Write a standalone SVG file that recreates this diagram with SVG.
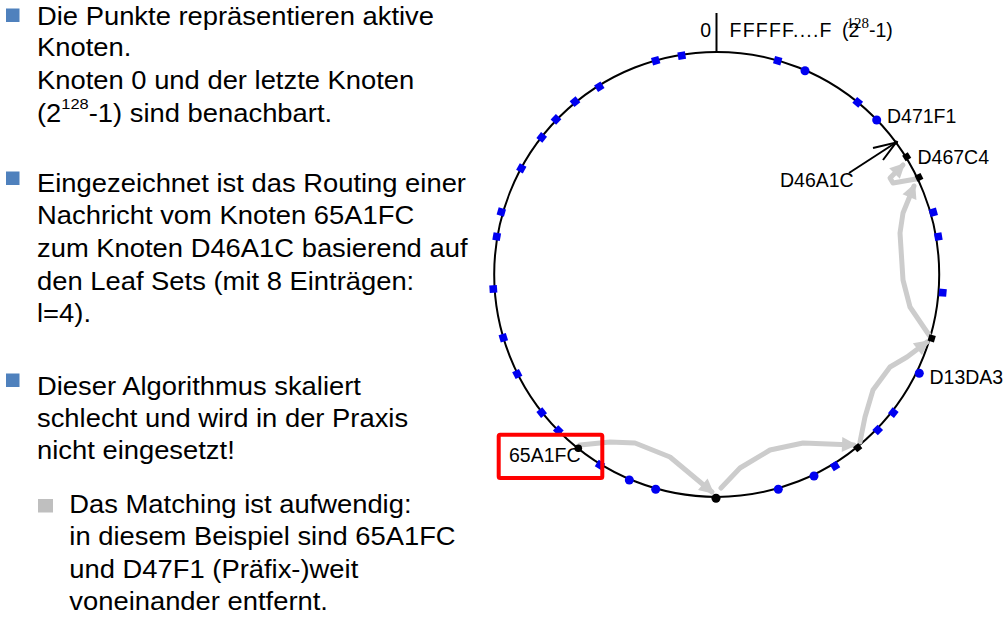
<svg xmlns="http://www.w3.org/2000/svg" width="1007" height="619" viewBox="0 0 1007 619">
  <style>
    .body { font-family: "Liberation Sans", Arial, sans-serif; font-size: 25px; fill: #000; }
    .lbl { font-family: "Liberation Sans", Arial, sans-serif; font-size: 19.5px; fill: #000; }
    .bul { fill: #4F81BD; }
    .sub { fill: #BFBFBF; }
    .ring { fill: none; stroke: #000; stroke-width: 2; }
    .sq { fill: #0000F0; }
    .dot { fill: #0000F0; }
    .blk { fill: #000; }
    .route { fill: none; stroke: #CCCCCC; stroke-width: 5; stroke-linejoin: round; stroke-linecap: round; marker-end: url(#gh); }
  </style>
  <defs>
    <marker id="gh" viewBox="0 0 10 10" refX="8" refY="5" markerWidth="3.4" markerHeight="3" orient="auto" markerUnits="strokeWidth">
      <path d="M0,0 L10,5 L0,10 z" fill="#CCCCCC"/>
    </marker>
    <rect id="bs" x="-3.8" y="-3.8" width="7.6" height="7.6" fill="#0000F0"/>
    <rect id="ks" x="-3.3" y="-3.3" width="6.6" height="6.6" fill="#000"/>
  </defs>
  <rect width="1007" height="619" fill="#fff"/>

  <!-- bullet text -->
  <g id="text">
    <rect class="bul" x="6" y="8.5" width="13.5" height="13.5"/>
    <rect class="bul" x="6" y="171.5" width="13.5" height="13.5"/>
    <rect class="bul" x="6" y="373.5" width="13.5" height="13.5"/>
    <rect class="sub" x="38" y="499" width="15" height="13.5"/>
    <g transform="scale(1.095,1)">
      <text class="body" x="33.8" y="25">Die Punkte repräsentieren aktive</text>
      <text class="body" x="33.8" y="56.5">Knoten.</text>
      <text class="body" x="33.8" y="89">Knoten 0 und der letzte Knoten</text>
      <text class="body" x="33.8" y="121.7">(2<tspan font-size="15" dy="-13">128</tspan><tspan dy="13">-1) sind benachbart.</tspan></text>
      <text class="body" x="33.8" y="191.7">Eingezeichnet ist das Routing einer</text>
      <text class="body" x="33.8" y="224.5">Nachricht vom Knoten 65A1FC</text>
      <text class="body" x="33.8" y="257">zum Knoten D46A1C basierend auf</text>
      <text class="body" x="33.8" y="289.7">den Leaf Sets (mit 8 Einträgen:</text>
      <text class="body" x="33.8" y="321.7">l=4).</text>
      <text class="body" x="33.8" y="395">Dieser Algorithmus skaliert</text>
      <text class="body" x="33.8" y="427">schlecht und wird in der Praxis</text>
      <text class="body" x="33.8" y="459.5">nicht eingesetzt!</text>
      <text class="body" x="63.3" y="513">Das Matching ist aufwendig:</text>
      <text class="body" x="63.3" y="545.5">in diesem Beispiel sind 65A1FC</text>
      <text class="body" x="63.3" y="578">und D47F1 (Präfix-)weit</text>
      <text class="body" x="63.3" y="610">voneinander entfernt.</text>
    </g>
  </g>

  <!-- identifier ring -->
  <g id="ring">
    <circle class="ring" cx="716.7" cy="274.4" r="222.5"/>
    <line x1="716.5" y1="13" x2="716.5" y2="52" stroke="#000" stroke-width="2"/>
    <text class="lbl" x="711" y="36.7" text-anchor="end">0</text>
    <text class="lbl" x="729.5" y="36.7" textLength="102" lengthAdjust="spacing">FFFFF....F</text>
    <text class="lbl" x="842" y="36.7">(2</text>
    <text x="846.5" y="28" font-family="'Liberation Serif', serif" font-size="15">128</text>
    <text class="lbl" x="869" y="36.7">-1)</text>
  </g>

  <!-- routing hops -->
  <g id="connectors">
    <polyline class="route" points="580,445 610,442 635,443 670,457 712,492"/>
    <polyline class="route" points="721,488 740,468 770,450 803,443 854,445"/>
    <polyline class="route" points="860,442 865,417 873,390 890,367 907,357 927,342"/>
    <polyline class="route" points="929,335 910,307 903,280 900,233 903,213 914,186"/>
    <polyline class="route" points="916,179 893,183 890,178 903,165"/>
    <line x1="849" y1="173" x2="896" y2="142.5" stroke="#000" stroke-width="2"/>
    <polyline points="873,148 896,142.5 883,160" fill="none" stroke="#000" stroke-width="2"/>
  </g>

  <!-- active nodes -->
  <g id="nodes">
    <use href="#bs" transform="translate(681.7,55.7) rotate(-99)"/>
    <use href="#bs" transform="translate(655.7,60.7) rotate(-106)"/>
    <use href="#bs" transform="translate(599.3,86.7) rotate(-122)"/>
    <use href="#bs" transform="translate(575,101.7) rotate(-129)"/>
    <use href="#bs" transform="translate(556,119.3) rotate(-136)"/>
    <use href="#bs" transform="translate(541.7,137.3) rotate(-142)"/>
    <use href="#bs" transform="translate(521.3,168.3) rotate(-151)"/>
    <use href="#bs" transform="translate(501.3,212) rotate(-164)"/>
    <use href="#bs" transform="translate(496.7,236.7) rotate(-170)"/>
    <use href="#bs" transform="translate(493.3,289) rotate(176)"/>
    <use href="#bs" transform="translate(503.3,337.7) rotate(163)"/>
    <use href="#bs" transform="translate(517.3,374) rotate(153)"/>
    <use href="#bs" transform="translate(541.7,412.7) rotate(142)"/>
    <use href="#bs" transform="translate(558.3,430.5) rotate(135)"/>
    <use href="#bs" transform="translate(600,465) rotate(121)"/>
    <circle class="dot" cx="629.3" cy="480" r="4.5"/>
    <circle class="dot" cx="655.7" cy="489.3" r="4.5"/>
    <circle class="dot" cx="778.3" cy="489.3" r="4.5"/>
    <circle class="dot" cx="814" cy="476" r="4.5"/>
    <use href="#bs" transform="translate(835,466) rotate(58)"/>
    <use href="#bs" transform="translate(877.7,430) rotate(44)"/>
    <use href="#bs" transform="translate(893.3,412.7) rotate(38)"/>
    <circle class="dot" cx="919.3" cy="373.3" r="4.5"/>
    <use href="#bs" transform="translate(942.7,292.7) rotate(5)"/>
    <use href="#bs" transform="translate(938.3,236.7) rotate(-10)"/>
    <use href="#bs" transform="translate(933.3,212.3) rotate(-16)"/>
    <use href="#bs" transform="translate(857.7,102.3) rotate(-51)"/>
    <circle class="dot" cx="876.7" cy="120" r="4.5"/>
    <circle class="dot" cx="805" cy="70.7" r="4.5"/>
    <use href="#bs" transform="translate(777.7,60.7) rotate(-74)"/>

    <use href="#ks" transform="translate(906.7,156.7) rotate(-32)"/>
    <use href="#ks" transform="translate(919,177.3) rotate(-26)"/>
    <use href="#ks" transform="translate(931.7,338.3) rotate(17)"/>
    <use href="#ks" transform="translate(857.7,447.7) rotate(51)"/>
    <circle class="blk" cx="578.3" cy="448.3" r="3.8"/>
    <circle class="blk" cx="716" cy="498.3" r="4.5"/>
    <circle class="blk" cx="896" cy="142.5" r="2"/>
  </g>

  <!-- node labels -->
  <g id="labels">
    <text class="lbl" x="887" y="122.5">D471F1</text>
    <text class="lbl" x="917.5" y="164">D467C4</text>
    <text class="lbl" x="780" y="186.5">D46A1C</text>
    <text class="lbl" x="929.5" y="384">D13DA3</text>
  </g>

  <!-- start node highlight -->
  <g id="start">
    <rect x="498.7" y="434.7" width="103.6" height="43.3" rx="1.5" fill="none" stroke="#FF0000" stroke-width="4"/>
    <text class="lbl" x="509" y="461.7">65A1FC</text>
  </g>
</svg>
